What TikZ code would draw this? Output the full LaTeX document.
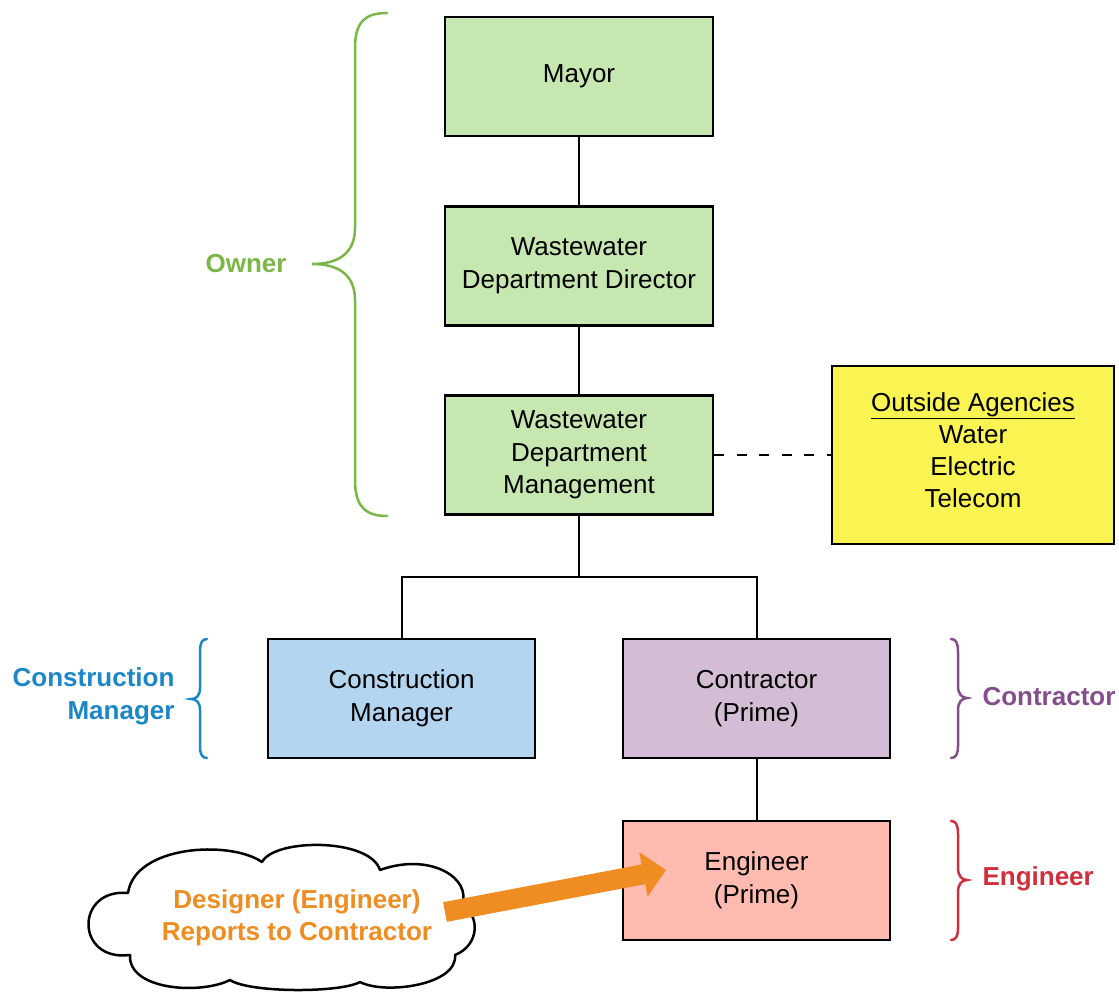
\documentclass[tikz,border=0pt]{standalone}
\usepackage{fontspec}
\setmainfont{Liberation Sans}
\usetikzlibrary{arrows.meta}
\definecolor{boxgreen}{HTML}{C6E7B0}
\definecolor{ownergreen}{HTML}{7AB648}
\definecolor{boxblue}{HTML}{B3D5EF}
\definecolor{cmblue}{HTML}{1C86C6}
\definecolor{boxpurple}{HTML}{D2BDD4}
\definecolor{conpurple}{HTML}{844E8C}
\definecolor{boxred}{HTML}{FFBBB0}
\definecolor{engred}{HTML}{D22F3D}
\definecolor{boxyellow}{HTML}{F9F452}
\definecolor{arrorange}{HTML}{EF8C22}
\begin{document}
\begin{tikzpicture}[x=1pt,y=-1pt,
  orgbox/.style={draw=black,line width=2.5pt,minimum width=268pt,minimum height=119pt,
    inner sep=0pt,align=center,font=\fontsize{26}{32.5}\selectfont},
  link/.style={draw=black,line width=2pt},
  bracelbl/.style={font=\fontsize{26}{33}\selectfont\bfseries},
  brace/.style={line width=2.5pt,line cap=round}]
\useasboundingbox (0,0) rectangle (1119,993);
% boxes
\node[orgbox,fill=boxgreen] (mayor) at (579,76.5) {Mayor};
\node[orgbox,fill=boxgreen] (dir) at (579,266) {Wastewater\\Department Director};
\node[orgbox,fill=boxgreen] (mgmt) at (579,455) {Wastewater\\Department\\Management};
\node[orgbox,fill=boxyellow,minimum width=282pt,minimum height=178pt] (out) at (973,455) {};
\node[align=center,inner sep=0pt,font=\fontsize{26}{32}\selectfont] (outtxt) at (973,450)
  {\underline{Outside Agencies}\\Water\\Electric\\Telecom};
\node[orgbox,fill=boxblue,minimum width=267pt] (cm) at (401.5,698.5) {Construction\\Manager};
\node[orgbox,fill=boxpurple,minimum width=267pt] (con) at (756.5,698.5) {Contractor\\(Prime)};
\node[orgbox,fill=boxred,minimum width=267pt] (eng) at (756.5,880.5) {Engineer\\(Prime)};
% connectors
\draw[link] (mayor) -- (dir);
\draw[link] (dir) -- (mgmt);
\coordinate (split) at (579,577);
\draw[link] (mgmt.south) -- (split);
\draw[link] (split) -| (cm.north);
\draw[link] (split) -| (con.north);
\draw[link] (con) -- (eng);
\draw[link,dash pattern=on 10pt off 12.5pt] (mgmt.east) -- (out.west);
% braces
\draw[brace,ownergreen] (387,13) .. controls (365,13) and (355,22) .. (355,48) -- (355,228)
  .. controls (355,252) and (340,264) .. (312,264)
  .. controls (340,264) and (355,276) .. (355,300) -- (355,480)
  .. controls (355,506) and (365,516) .. (387,516);
\node[bracelbl,text=ownergreen] (ownerlbl) at (246,264) {Owner};
\draw[brace,cmblue] (207,639) .. controls (202,639) and (200,643) .. (200,652) -- (200,688)
  .. controls (200,696) and (196,699) .. (191,699)
  .. controls (196,699) and (200,702) .. (200,710) -- (200,746)
  .. controls (200,754) and (202,758) .. (207,758);
\node[bracelbl,text=cmblue,align=right,anchor=east] (cmlbl) at (178,696) {Construction\\Manager};
\draw[brace,conpurple] (951,639) .. controls (956,639) and (958,643) .. (958,652) -- (958,686)
  .. controls (958,694) and (962,698) .. (967,698)
  .. controls (962,698) and (958,702) .. (958,710) -- (958,746)
  .. controls (958,754) and (956,758) .. (951,758);
\node[bracelbl,text=conpurple,anchor=west] (conlbl) at (979,697) {Contractor};
\draw[brace,engred] (951,821) .. controls (956,821) and (958,825) .. (958,834) -- (958,868)
  .. controls (958,876) and (962,880) .. (967,880)
  .. controls (962,880) and (958,884) .. (958,892) -- (958,928)
  .. controls (958,936) and (956,940) .. (951,940);
\node[bracelbl,text=engred,anchor=west] (englbl) at (979,879) {Engineer};
% cloud
\draw[black,fill=white,line width=2.5pt,line join=round]
  (130,955) .. controls (75,962) and (75,888) .. (128,893)
  .. controls (135,845) and (230,840) .. (262,862)
  .. controls (275,838) and (370,838) .. (380,870)
  .. controls (430,852) and (472,878) .. (462,905)
  .. controls (480,915) and (480,945) .. (455,955)
  .. controls (458,985) and (385,995) .. (360,982)
  .. controls (340,993) and (250,993) .. (230,980)
  .. controls (200,995) and (128,990) .. (130,955) -- cycle;
\node[align=center,inner sep=0pt,font=\fontsize{26}{32}\selectfont\bfseries,text=arrorange]
  (cloud) at (297,918) {Designer (Engineer)\\Reports to Contractor};
\coordinate (arrstart) at (445,912);
\coordinate (arrend) at (666,870);
\draw[arrorange,line width=20pt,-{Triangle[length=23pt,width=44pt]}] (arrstart) -- (arrend);
\end{tikzpicture}
\end{document}
